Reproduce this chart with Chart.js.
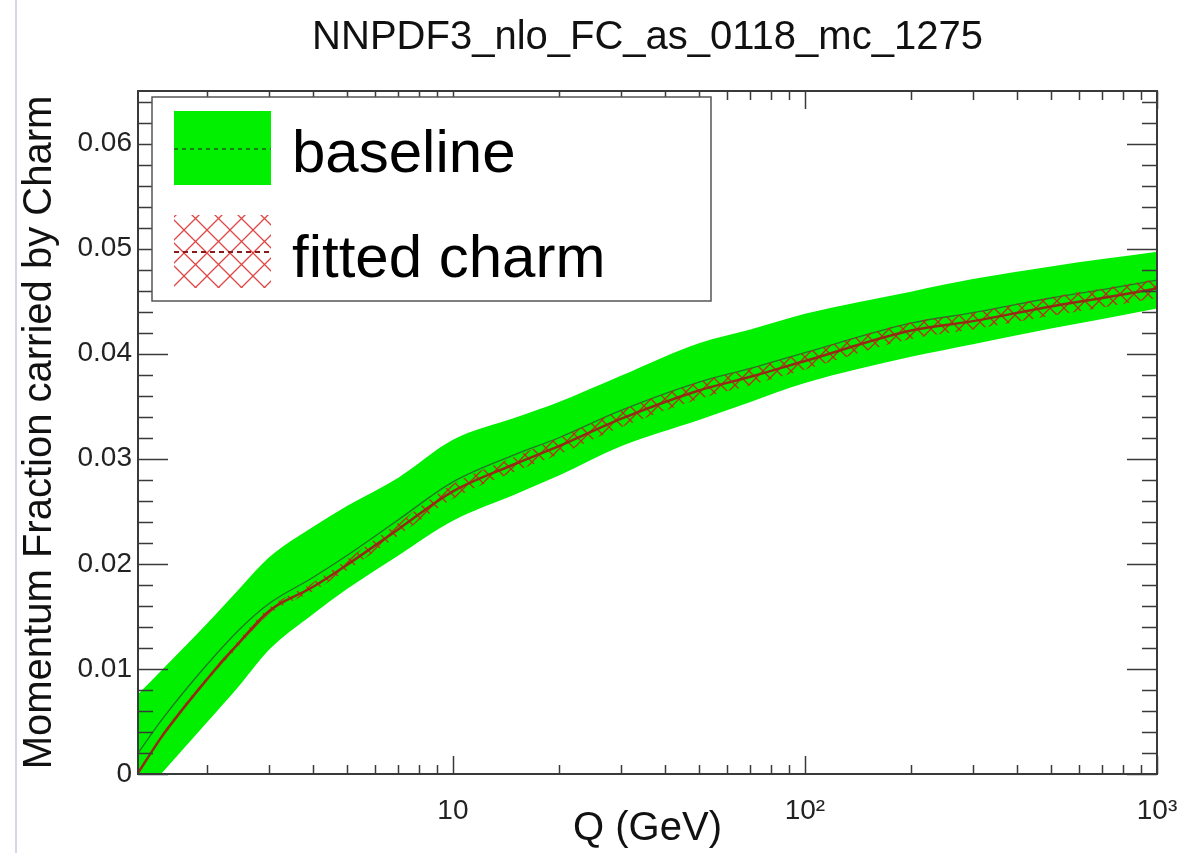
<!DOCTYPE html>
<html>
<head>
<meta charset="utf-8">
<title>Momentum fraction carried by charm</title>
<script src="https://cdn.jsdelivr.net/npm/chart.js@4.4.1/dist/chart.umd.min.js"></script>
<style>
    html, body { margin: 0; padding: 0; background: #fff; overflow: hidden; }
    #wrap { position: relative; width: 1178px; height: 853px; }
    #edge { position: absolute; left: 15px; top: 0; width: 2px; height: 853px; background: #d6d6e8; }
</style>
</head>
<body>
<div id="wrap">
    <canvas id="charmChart" width="1178" height="853"></canvas>
    <div id="edge"></div>
</div>
<script>
const qValues = [1.275, 1.5, 2, 2.5, 3, 4, 5, 7, 10, 15, 20, 30, 50, 70, 100, 200, 300, 500, 700, 1000];

// baseline (green band)
const baselineUpper = [0.0076, 0.0100, 0.0143, 0.0178, 0.0206, 0.0235, 0.0255, 0.0282, 0.0318, 0.0339, 0.0354, 0.0379, 0.0410, 0.0423, 0.0438, 0.0459, 0.0471, 0.0483, 0.0490, 0.0497];
const baselineLower = [-0.0025, 0.0002, 0.0049, 0.0086, 0.0118, 0.0152, 0.0176, 0.0208, 0.0241, 0.0266, 0.0284, 0.0312, 0.0337, 0.0354, 0.0372, 0.0397, 0.0409, 0.0424, 0.0433, 0.0443];
const baselineCentral = [0.0020, 0.0053, 0.0104, 0.0139, 0.0162, 0.0187, 0.0208, 0.0242, 0.0278, 0.0304, 0.0320, 0.0346, 0.0373, 0.0386, 0.0401, 0.0429, 0.0439, 0.0453, 0.0461, 0.0470];

// fitted charm (red hatched band)
const fittedUpper = [0.0002, 0.0039, 0.0092, 0.0130, 0.0158, 0.0182, 0.0204, 0.0239, 0.0276, 0.0302, 0.0320, 0.0346, 0.0373, 0.0386, 0.0401, 0.0430, 0.0439, 0.0454, 0.0462, 0.0471];
const fittedLower = [0.0000, 0.0035, 0.0088, 0.0124, 0.0152, 0.0174, 0.0194, 0.0227, 0.0262, 0.0288, 0.0304, 0.0330, 0.0357, 0.0370, 0.0385, 0.0414, 0.0423, 0.0436, 0.0444, 0.0453];
const fittedCentral = [0.0001, 0.0037, 0.0090, 0.0127, 0.0155, 0.0178, 0.0199, 0.0233, 0.0269, 0.0295, 0.0312, 0.0338, 0.0365, 0.0378, 0.0393, 0.0422, 0.0431, 0.0445, 0.0453, 0.0462];

// axes
const xTickValues = [10, 100, 1000];
const xTickLabels = ['10', '10²', '10³'];
const xMinorTicks = [2, 3, 4, 5, 6, 7, 8, 9, 20, 30, 40, 50, 60, 70, 80, 90, 200, 300, 400, 500, 600, 700, 800, 900];
const yTickValues = [0, 0.01, 0.02, 0.03, 0.04, 0.05, 0.06];
const yTickLabels = ['0', '0.01', '0.02', '0.03', '0.04', '0.05', '0.06'];
const legendEntries = ['baseline', 'fitted charm'];

const FONT = "'Liberation Sans', Arial, sans-serif";
const GREEN = '#00f000';

function toPoints(values) {
    return qValues.map((q, i) => ({ x: q, y: values[i] }));
}

function makeHatch(ctx, size, colour) {
    const tile = document.createElement('canvas');
    tile.width = size;
    tile.height = size;
    const g = tile.getContext('2d');
    g.strokeStyle = colour;
    g.lineWidth = 1.3;
    g.beginPath();
    g.moveTo(0, 0);
    g.lineTo(size, size);
    g.moveTo(size, 0);
    g.lineTo(0, size);
    g.stroke();
    return ctx.createPattern(tile, 'repeat');
}

// frame and ROOT-style inward ticks on all four sides
const frameTicks = {
    id: 'frameTicks',
    afterDatasetsDraw(chart) {
        const { ctx, chartArea: a, scales: { x, y } } = chart;
        ctx.save();
        ctx.strokeStyle = '#3a3a3a';
        ctx.lineWidth = 1.5;
        ctx.beginPath();
        for (let k = 0; k <= 32; k++) {
            const py = Math.round(y.getPixelForValue(k * 0.002)) + 0.5;
            const len = k % 5 === 0 ? 30 : 15;
            ctx.moveTo(a.left, py);
            ctx.lineTo(a.left + len, py);
            ctx.moveTo(a.right, py);
            ctx.lineTo(a.right - len, py);
        }
        const xTick = (v, len) => {
            const px = Math.round(x.getPixelForValue(v)) + 0.5;
            ctx.moveTo(px, a.bottom);
            ctx.lineTo(px, a.bottom - len);
            ctx.moveTo(px, a.top);
            ctx.lineTo(px, a.top + len);
        };
        xMinorTicks.forEach((v) => xTick(v, 9));
        xTickValues.forEach((v) => xTick(v, 18));
        ctx.stroke();
        ctx.lineWidth = 2;
        ctx.strokeRect(a.left, a.top, a.right - a.left, a.bottom - a.top);
        ctx.restore();
    },
};

// legend box drawn inside the frame, like the ROOT TLegend
const legendBox = {
    id: 'legendBox',
    afterDraw(chart) {
        const { ctx, chartArea: a } = chart;
        const left = a.left + 14;
        const top = a.top + 6;
        const w = 559;
        const h = 204;
        ctx.save();
        ctx.fillStyle = '#fff';
        ctx.fillRect(left, top, w, h);
        ctx.strokeStyle = '#555';
        ctx.lineWidth = 1.5;
        ctx.strokeRect(left, top, w, h);

        // baseline swatch
        const sx = left + 22;
        const sw = 97;
        ctx.fillStyle = GREEN;
        ctx.fillRect(sx, top + 14, sw, 74);
        ctx.strokeStyle = '#1f5a1f';
        ctx.lineWidth = 1.5;
        ctx.setLineDash([4, 4]);
        ctx.beginPath();
        ctx.moveTo(sx, top + 52);
        ctx.lineTo(sx + sw, top + 52);
        ctx.stroke();

        // fitted charm swatch
        ctx.setLineDash([]);
        ctx.fillStyle = makeHatch(ctx, 23, 'rgba(220, 50, 50, 0.9)');
        ctx.fillRect(sx, top + 118, sw, 73);
        ctx.strokeStyle = '#8a1a1a';
        ctx.lineWidth = 2;
        ctx.setLineDash([5, 4]);
        ctx.beginPath();
        ctx.moveTo(sx, top + 155);
        ctx.lineTo(sx + sw, top + 155);
        ctx.stroke();
        ctx.setLineDash([]);

        ctx.fillStyle = '#000';
        ctx.font = `60px ${FONT}`;
        ctx.textBaseline = 'alphabetic';
        ctx.fillText(legendEntries[0], left + 140, top + 75);
        ctx.fillText(legendEntries[1], left + 140, top + 180);
        ctx.restore();
    },
};

const canvas = document.getElementById('charmChart');
const hatch = makeHatch(canvas.getContext('2d'), 14, 'rgba(200, 30, 25, 0.9)');

const lineDefaults = {
    pointRadius: 0,
    cubicInterpolationMode: 'monotone',
};

new Chart(canvas, {
    type: 'line',
    data: {
        datasets: [
            {
                ...lineDefaults,
                label: 'baseline upper',
                data: toPoints(baselineUpper),
                borderWidth: 0,
                borderColor: 'transparent',
                backgroundColor: GREEN,
                fill: 1,
                order: 6,
            },
            {
                ...lineDefaults,
                label: 'baseline lower',
                data: toPoints(baselineLower),
                borderWidth: 0,
                borderColor: 'transparent',
                fill: false,
                order: 5,
            },
            {
                ...lineDefaults,
                label: 'baseline',
                data: toPoints(baselineCentral),
                borderWidth: 1.3,
                borderColor: 'rgba(45, 95, 45, 0.85)',
                fill: false,
                order: 4,
            },
            {
                ...lineDefaults,
                label: 'fitted upper',
                data: toPoints(fittedUpper),
                borderWidth: 0,
                borderColor: 'transparent',
                backgroundColor: hatch,
                fill: 4,
                order: 3,
            },
            {
                ...lineDefaults,
                label: 'fitted lower',
                data: toPoints(fittedLower),
                borderWidth: 0,
                borderColor: 'transparent',
                fill: false,
                order: 2,
            },
            {
                ...lineDefaults,
                label: 'fitted charm',
                data: toPoints(fittedCentral),
                borderWidth: 2.5,
                borderColor: '#952a14',
                fill: false,
                order: 1,
            },
        ],
    },
    options: {
        responsive: false,
        animation: false,
        events: [],
        layout: { padding: { top: 0, right: 21, bottom: 0, left: 0 } },
        scales: {
            x: {
                type: 'logarithmic',
                min: 1.275,
                max: 1000,
                grid: { display: false },
                border: { display: false },
                afterBuildTicks: (scale) => {
                    scale.ticks = xTickValues.map((v) => ({ value: v }));
                },
                afterFit: (scale) => {
                    scale.height = 79;
                    scale.paddingLeft = 0;
                    scale.paddingRight = 0;
                },
                ticks: {
                    autoSkip: false,
                    maxRotation: 0,
                    padding: 12,
                    color: '#222',
                    font: { family: FONT, size: 28 },
                    callback: (value) => xTickLabels[xTickValues.indexOf(value)] ?? '',
                },
                title: {
                    display: true,
                    text: 'Q (GeV)',
                    color: '#111',
                    font: { family: FONT, size: 40, lineHeight: 1.2 },
                    padding: { top: 0, bottom: 0 },
                },
            },
            y: {
                type: 'linear',
                min: 0,
                max: 0.065,
                grid: { display: false },
                border: { display: false },
                afterBuildTicks: (scale) => {
                    scale.ticks = yTickValues.map((v) => ({ value: v }));
                },
                afterFit: (scale) => {
                    scale.width = 138;
                },
                ticks: {
                    padding: -2,
                    color: '#222',
                    font: { family: FONT, size: 28 },
                    callback: (value) => yTickLabels[yTickValues.indexOf(value)] ?? '',
                },
                title: {
                    display: true,
                    text: 'Momentum Fraction carried by Charm',
                    color: '#111',
                    font: { family: FONT, size: 40, lineHeight: 1.2 },
                    padding: { top: 16, bottom: 0 },
                },
            },
        },
        plugins: {
            legend: { display: false },
            tooltip: { enabled: false },
            title: {
                display: true,
                fullSize: false,
                text: 'NNPDF3_nlo_FC_as_0118_mc_1275',
                color: '#111',
                font: { family: FONT, size: 40, weight: 'normal', lineHeight: 1.2 },
                padding: { top: 14, bottom: 29 },
            },
        },
    },
    plugins: [frameTicks, legendBox],
});
</script>
</body>
</html>
